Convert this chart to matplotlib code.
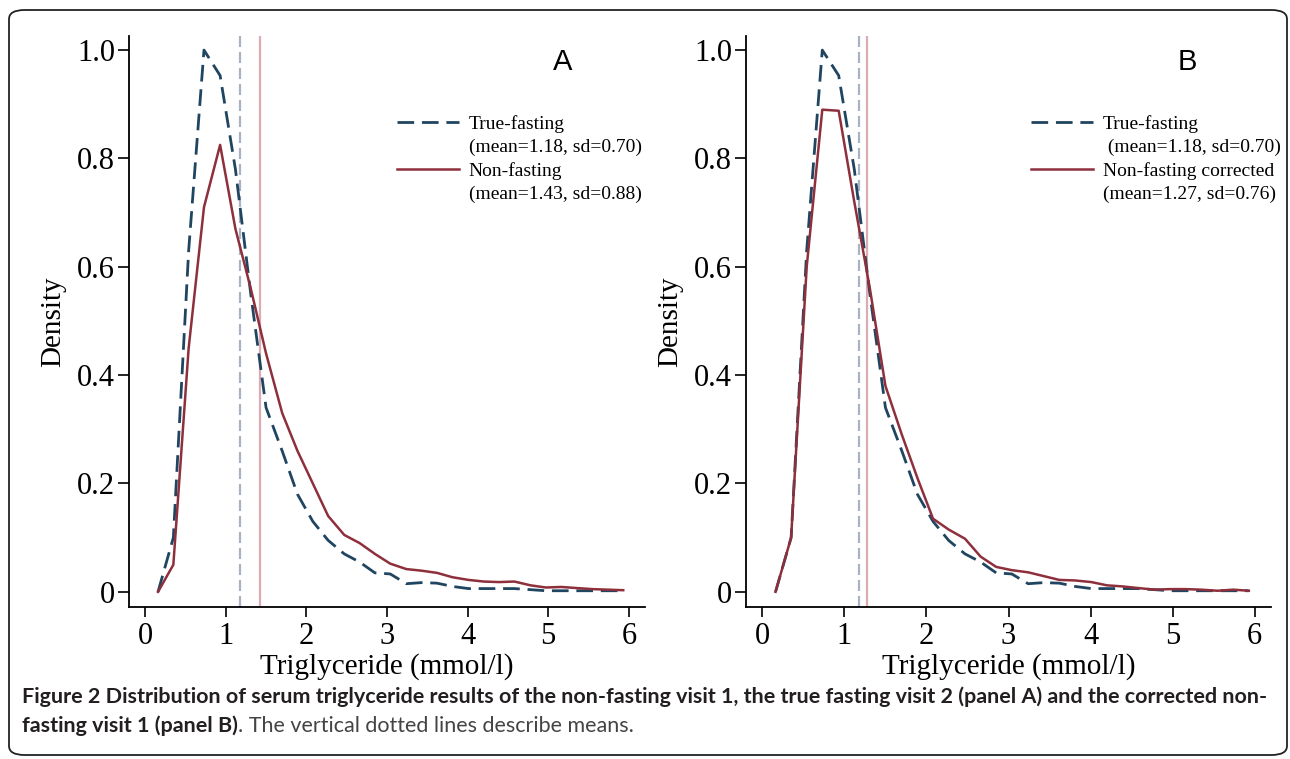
import matplotlib
matplotlib.use("Agg")
import matplotlib.pyplot as plt
from matplotlib.lines import Line2D
from matplotlib.patches import FancyBboxPatch

# bin midpoints (mmol/l)
tg = [0.16, 0.35, 0.54, 0.73, 0.93, 1.12, 1.31, 1.50, 1.70, 1.89, 2.08,
      2.27, 2.47, 2.66, 2.85, 3.04, 3.24, 3.43, 3.62, 3.81, 4.01, 4.20,
      4.39, 4.58, 4.78, 4.97, 5.16, 5.35, 5.55, 5.74, 5.93]

true_fasting = [0.0, 0.10, 0.63, 1.00, 0.953, 0.78, 0.55, 0.34, 0.26, 0.18, 0.13,
                0.095, 0.07, 0.055, 0.035, 0.033, 0.015, 0.017, 0.016, 0.010, 0.006, 0.006,
                0.006, 0.006, 0.004, 0.002, 0.002, 0.002, 0.002, 0.002, 0.002]

non_fasting = [0.0, 0.05, 0.45, 0.71, 0.825, 0.67, 0.56, 0.44, 0.33, 0.26, 0.20,
               0.14, 0.105, 0.09, 0.07, 0.052, 0.042, 0.039, 0.035, 0.027, 0.022, 0.019,
               0.018, 0.019, 0.012, 0.008, 0.009, 0.007, 0.005, 0.004, 0.003]

non_fasting_corr = [0.0, 0.10, 0.60, 0.89, 0.888, 0.72, 0.56, 0.38, 0.29, 0.21, 0.135,
                    0.115, 0.098, 0.065, 0.046, 0.040, 0.036, 0.029, 0.022, 0.021, 0.018, 0.012,
                    0.010, 0.007, 0.004, 0.005, 0.005, 0.004, 0.002, 0.004, 0.002]

mean_true = 1.18
mean_non = 1.43
mean_corr = 1.27

panels = ["A", "B"]
solid_series = [non_fasting, non_fasting_corr]
solid_means = [mean_non, mean_corr]
labels_true = ["True-fasting", "(mean=1.18, sd=0.70)"]
labels_solid = [["Non-fasting", "(mean=1.43, sd=0.88)"],
                ["Non-fasting corrected", "(mean=1.27, sd=0.76)"]]

DARK_BLUE = "#1f4560"
DARK_RED = "#8e2f3c"
serif = "Liberation Serif"

W, H = 1290, 759
fig = plt.figure(figsize=(W / 100, H / 100), dpi=100)

def px_axes(l, r, t, b):
    return fig.add_axes([l / W, 1 - b / H, (r - l) / W, (b - t) / H])

ax_a = px_axes(129, 645, 36, 607)
ax_b = px_axes(746, 1271, 36, 607)
axes = [ax_a, ax_b]
leg_x = [0.519, 0.543]

for i, ax in enumerate(axes):
    ax.axvline(mean_true, color="#aab2c6", lw=1.6, dashes=(5, 2.2))
    ax.axvline(solid_means[i], color="#dcacb6", lw=1.6)
    ax.plot(tg, true_fasting, color=DARK_BLUE, lw=2.0, dashes=(6, 2.8))
    ax.plot(tg, solid_series[i], color=DARK_RED, lw=1.8)

    ax.set_xlim(-0.2, 6.2)
    ax.set_ylim(-0.028, 1.026)
    ax.set_xticks(range(7))
    ax.set_yticks([0, 0.2, 0.4, 0.6, 0.8, 1.0])
    ax.set_yticklabels(["0", "0.2", "0.4", "0.6", "0.8", "1.0"])
    for s in ["top", "right"]:
        ax.spines[s].set_visible(False)
    for s in ["left", "bottom"]:
        ax.spines[s].set_linewidth(1.3)
    ax.tick_params(axis="y", length=8, width=1.2, pad=2)
    ax.tick_params(axis="x", length=7, width=1.2, pad=4)
    for lab in ax.get_xticklabels() + ax.get_yticklabels():
        lab.set_fontfamily(serif)
        lab.set_fontsize(22)
    ax.set_ylabel("Density", fontfamily=serif, fontsize=21, labelpad=8)
    ax.set_xlabel("Triglyceride (mmol/l)", fontfamily=serif, fontsize=21, labelpad=1)

    ax.text(0.84, 0.955, panels[i], transform=ax.transAxes, fontsize=21,
            fontfamily="Liberation Sans", ha="center", va="center")

    handles = [Line2D([], [], color=DARK_BLUE, lw=2.0, dashes=(6, 2.8)),
               Line2D([], [], linestyle="none"),
               Line2D([], [], color=DARK_RED, lw=1.8),
               Line2D([], [], linestyle="none")]
    sec_true = labels_true[1] if i == 0 else " " + labels_true[1]
    labels = [labels_true[0], sec_true, labels_solid[i][0], labels_solid[i][1]]
    ax.legend(handles, labels, loc="upper left", bbox_to_anchor=(leg_x[i], 0.862),
              frameon=False, prop={"family": serif, "size": 14},
              handlelength=3.2, handletextpad=0.5, labelspacing=0.3,
              borderpad=0, borderaxespad=0)

# rounded frame around the figure
frame = FancyBboxPatch((9 / W, 4 / H), 1278 / W, 745 / H,
                       boxstyle="round,pad=0,rounding_size=0.012",
                       transform=fig.transFigure, fill=False,
                       edgecolor="#222222", lw=1.3)
fig.patches.append(frame)

# caption
cap_font = "Lato"
cap_size = 15.45
fig.text(22 / W, 1 - 697 / H,
         "Figure 2 Distribution of serum triglyceride results of the non-fasting visit 1, "
         "the true fasting visit 2 (panel A) and the corrected non-",
         fontfamily=cap_font, fontweight="bold", fontsize=cap_size,
         color="#231f20", va="center", ha="left")
t2 = fig.text(22 / W, 1 - 726 / H, "fasting visit 1 (panel B)",
              fontfamily=cap_font, fontweight="bold", fontsize=cap_size,
              color="#231f20", va="center", ha="left")
r = fig.canvas.get_renderer()
bb = t2.get_window_extent(renderer=r)
fig.text(bb.x1 / W, 1 - 726 / H, ". The vertical dotted lines describe means.",
         fontfamily=cap_font, fontsize=cap_size, color="#444444",
         va="center", ha="left")

fig.savefig("out.png", dpi=100)
